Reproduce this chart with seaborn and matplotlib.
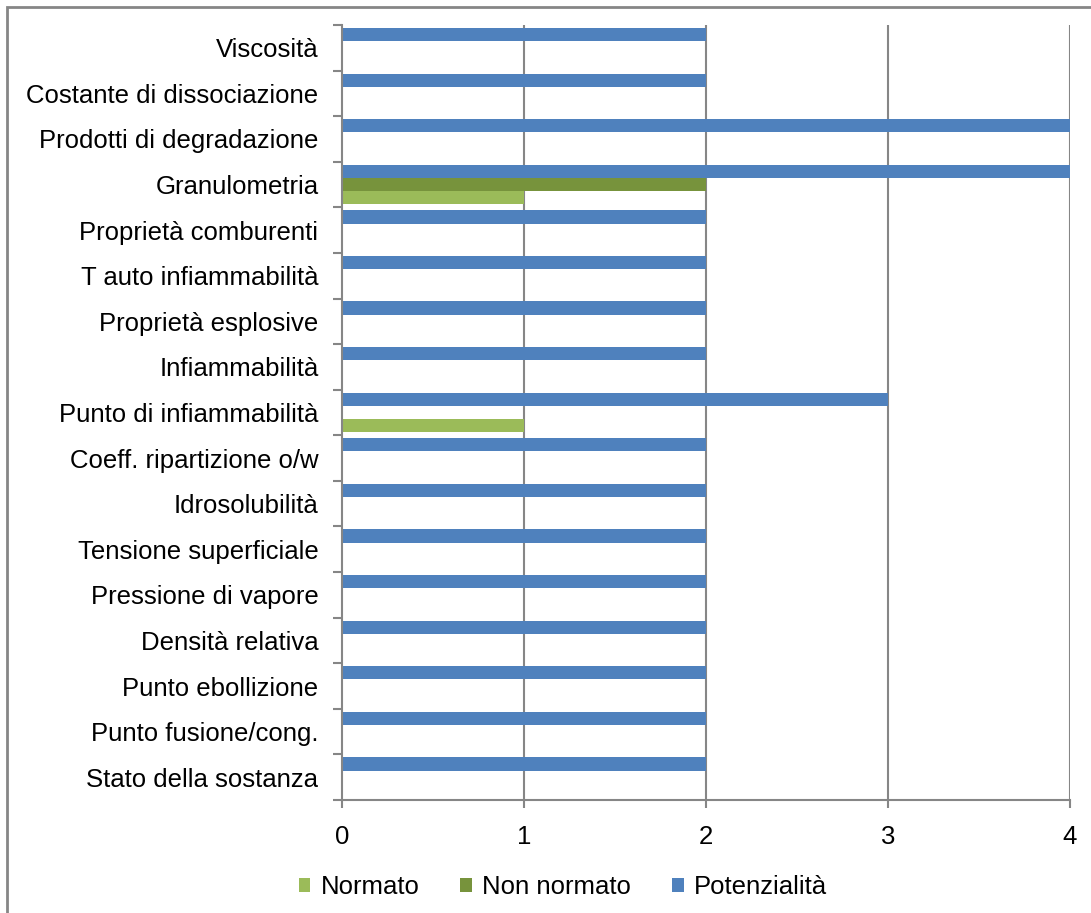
import matplotlib
matplotlib.use("Agg")
import matplotlib.pyplot as plt
from matplotlib.patches import Patch, Rectangle
import numpy as np
import pandas as pd
import seaborn as sns

categories = [
    "Viscosità",
    "Costante di dissociazione",
    "Prodotti di degradazione",
    "Granulometria",
    "Proprietà comburenti",
    "T auto infiammabilità",
    "Proprietà esplosive",
    "Infiammabilità",
    "Punto di infiammabilità",
    "Coeff. ripartizione o/w",
    "Idrosolubilità",
    "Tensione superficiale",
    "Pressione di vapore",
    "Densità relativa",
    "Punto ebollizione",
    "Punto fusione/cong.",
    "Stato della sostanza",
]
normato = [0, 0, 0, 1, 0, 0, 0, 0, 1, 0, 0, 0, 0, 0, 0, 0, 0]
non_normato = [0, 0, 0, 2, 0, 0, 0, 0, 0, 0, 0, 0, 0, 0, 0, 0, 0]
potenzialita = [2, 2, 4, 4, 2, 2, 2, 2, 3, 2, 2, 2, 2, 2, 2, 2, 2]

series_names = ["Normato", "Non normato", "Potenzialità"]
colors = {"Normato": "#9BBB59", "Non normato": "#77933C", "Potenzialità": "#4F81BD"}
x_ticks = [0, 1, 2, 3, 4]

df = pd.DataFrame({
    "categoria": categories * 3,
    "serie": ["Normato"] * len(categories) + ["Non normato"] * len(categories)
             + ["Potenzialità"] * len(categories),
    "valore": normato + non_normato + potenzialita,
})

sns.set_theme(style="white")
plt.rcParams["font.family"] = ["Liberation Sans", "DejaVu Sans"]
plt.rcParams["text.color"] = "black"

FS = 18.5
fig = plt.figure(figsize=(10.91, 9.13), dpi=100)
ax = fig.add_axes([342 / 1091, 1 - 800 / 913, (1070 - 342) / 1091, (800 - 25) / 913])

grid_color = "#868686"
for xv in x_ticks[1:]:
    ax.axvline(xv, color=grid_color, lw=1.5, zorder=0)

sns.barplot(
    data=df, y="categoria", x="valore", hue="serie",
    order=categories, hue_order=["Potenzialità", "Non normato", "Normato"],
    palette=colors, orient="h", width=0.87, dodge=True,
    linewidth=0, saturation=1, errorbar=None, legend=False, ax=ax, zorder=2,
)

ax.set_xlim(0, 4)
ax.set_ylim(len(categories) - 0.5, -0.5)
ax.set_xlabel("")
ax.set_ylabel("")

# category labels at slot centres, tick marks at slot boundaries
ax.set_yticks(np.arange(-0.5, len(categories), 1.0))
ax.set_yticklabels([])
ax.set_yticks(np.arange(len(categories)), minor=True)
ax.set_yticklabels(categories, minor=True, fontsize=FS, color="black")
ax.tick_params(axis="y", which="minor", length=0, pad=17)
ax.tick_params(axis="y", which="major", length=6.5, width=1.5, color=grid_color,
               direction="out", left=True)

ax.set_xticks(x_ticks)
ax.set_xticklabels([str(t) for t in x_ticks], fontsize=FS, color="black")
ax.tick_params(axis="x", length=5.8, width=1.5, color=grid_color, direction="out",
               bottom=True, pad=12)

for side in ["top", "right"]:
    ax.spines[side].set_visible(False)
for side in ["left", "bottom"]:
    ax.spines[side].set_color(grid_color)
    ax.spines[side].set_linewidth(1.5)

handles = [Patch(facecolor=colors[s], edgecolor="none", label=s) for s in series_names]
fig.legend(
    handles=handles, loc="center", bbox_to_anchor=(0.516, 1 - 887 / 913),
    ncol=3, frameon=False, fontsize=FS, handlelength=0.45, handleheight=0.45,
    handletextpad=0.4, columnspacing=1.6, labelcolor="black",
)

# chart frame
fig.add_artist(Rectangle((7 / 1091, -0.05), 1.2, 1 - 7 / 913 + 0.05,
                         transform=fig.transFigure, fill=False,
                         edgecolor=grid_color, lw=2, zorder=10))

fig.savefig("out.png", dpi=100, facecolor="white")
